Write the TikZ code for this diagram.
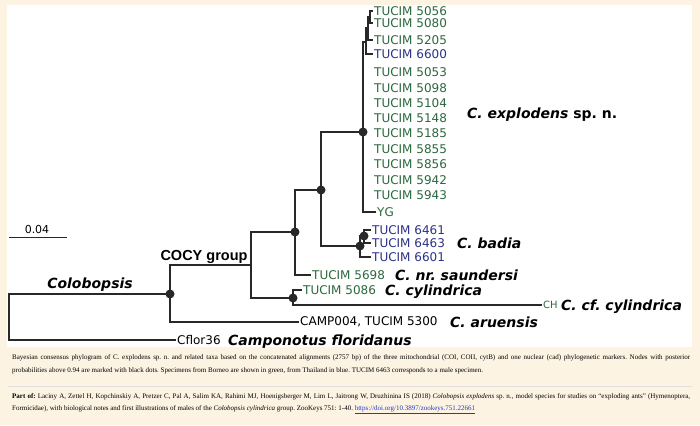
\documentclass[tikz,border=0pt]{standalone}
\usepackage{fontspec}
\setmainfont{Liberation Serif}
\newfontfamily\vfont{DejaVu Sans}
\newfontfamily\afont{Liberation Sans}
\definecolor{cream}{HTML}{FDF3E3}
\definecolor{bgreen}{RGB}{44,104,62}
\definecolor{bblue}{RGB}{43,50,135}
\definecolor{treegray}{RGB}{40,40,40}
\definecolor{linkblue}{RGB}{30,60,200}
\frenchspacing
\begin{document}
\begin{tikzpicture}[x=1pt,y=-1pt,
  br/.style={line width=1.3pt, draw=treegray},
  dot/.style={circle, fill=treegray, inner sep=0pt, minimum size=9pt},
  tip/.style={anchor=west, inner sep=1pt, font=\vfont\fontsize{12}{14}\selectfont},
  gtip/.style={tip, text=bgreen},
  btip/.style={tip, text=bblue},
  sp/.style={anchor=base west, inner sep=0pt, font=\vfont\bfseries\itshape\fontsize{14}{16}\selectfont},
  captxt/.style={anchor=north west, text width=678pt, align=justify, inner sep=0pt}
]
\useasboundingbox (0,0) rectangle (700,425);
\fill[cream] (0,0) rectangle (700,425);
\fill[white] (7,5) rectangle (692,347);

% internal nodes
\coordinate (root) at (9,317);
\coordinate (colob) at (170,294);
\coordinate (cocy) at (251,265);
\coordinate (n1) at (295,232);
\coordinate (cyl) at (293,298);
\coordinate (n2) at (321,190);
\coordinate (expl) at (363,132);
\coordinate (bad1) at (360,246);
\coordinate (bad2) at (364,236);
\coordinate (a1) at (366,42);
\coordinate (a2) at (368,28);
\coordinate (a3) at (370,17);

% tips
\node[gtip] (t5056) at (373,11) {TUCIM 5056};
\node[gtip] (t5080) at (373,23) {TUCIM 5080};
\node[gtip] (t5205) at (373,40) {TUCIM 5205};
\node[btip] (t6600) at (373,54) {TUCIM 6600};
\node[gtip] (t5053) at (373,72) {TUCIM 5053};
\node[gtip] (t5098) at (373,88) {TUCIM 5098};
\node[gtip] (t5104) at (373,103) {TUCIM 5104};
\node[gtip] (t5148) at (373,118) {TUCIM 5148};
\node[gtip] (t5185) at (373,133) {TUCIM 5185};
\node[gtip] (t5855) at (373,149) {TUCIM 5855};
\node[gtip] (t5856) at (373,164) {TUCIM 5856};
\node[gtip] (t5942) at (373,180) {TUCIM 5942};
\node[gtip] (t5943) at (373,195) {TUCIM 5943};
\node[gtip] (tyg) at (376,212) {YG};
\node[btip] (t6461) at (371,230) {TUCIM 6461};
\node[btip] (t6463) at (371,243) {TUCIM 6463};
\node[btip] (t6601) at (371,257) {TUCIM 6601};
\node[gtip] (t5698) at (311,275) {TUCIM 5698};
\node[gtip] (t5086) at (302,290) {TUCIM 5086};
\node[gtip, font=\vfont\fontsize{10}{12}\selectfont] (tch) at (542,305) {CH};
\node[tip] (tcamp) at (299,322) {CAMP004, TUCIM 5300};
\node[tip] (tcflor) at (176,340) {Cflor36};

% species / group labels
\node[sp] (sexpl) at (467,118) {C. explodens \textup{sp. n.}};
\node[sp] (sbad) at (457,248) {C. badia};
\node[sp] (ssaun) at (395,280) {C. nr. saundersi};
\node[sp] (scyl) at (385,295) {C. cylindrica};
\node[sp] (scfc) at (561,310) {C. cf. cylindrica};
\node[sp] (saru) at (450,327) {C. aruensis};
\node[sp] (sflor) at (228,345) {Camponotus floridanus};
\node[sp, anchor=base] (scolob) at (90,288) {Colobopsis};
\node[anchor=base, inner sep=0pt, font=\afont\bfseries\fontsize{14.5}{16}\selectfont] (scocy) at (204,260) {COCY group};

% scale bar
\coordinate (sbl) at (9,237);
\coordinate (sbr) at (67,237);
\draw[line width=1pt, draw=treegray] (sbl) -- (sbr);
\node[font=\vfont\fontsize{11}{13}\selectfont, inner sep=0pt] (sbar) at (37,229) {0.04};

% branches
\draw[br] (root) |- (colob);
\draw[br] (root) |- (tcflor.west);
\draw[br] (colob) |- (cocy);
\draw[br] (colob) |- (tcamp.west);
\draw[br] (cocy) |- (n1);
\draw[br] (cocy) |- (cyl);
\draw[br] (n1) |- (n2);
\draw[br] (n1) |- (t5698.west);
\draw[br] (cyl) |- (t5086.west);
\draw[br] (cyl) |- (tch.west);
\draw[br] (n2) |- (expl);
\draw[br] (n2) |- (bad1);
\draw[br] (bad1) |- (bad2);
\draw[br] (bad1) |- (t6601.west);
\draw[br] (bad2) |- (t6461.west);
\draw[br] (bad2) |- (t6463.west);
\draw[br] (expl) |- (a1);
\draw[br] (expl) |- (tyg.west);
\draw[br] (a1) |- (a2);
\draw[br] (a1) |- (t6600.west);
\draw[br] (a2) |- (a3);
\draw[br] (a2) |- (t5205.west);
\draw[br] (a3) |- (t5056.west);
\draw[br] (a3) |- (t5080.west);

% support dots
\node[dot] (dcolob) at (colob) {};
\node[dot] (dn1) at (n1) {};
\node[dot] (dcyl) at (cyl) {};
\node[dot] (dn2) at (n2) {};
\node[dot] (dexpl) at (expl) {};
\node[dot] (dbad1) at (bad1) {};
\node[dot] (dbad2) at (bad2) {};

% caption
\node[captxt, font=\fontsize{7}{13}\selectfont] (cap) at (12,354) {Bayesian consensus phylogram of C. explodens sp. n. and related taxa based on the concatenated alignments (2757 bp) of the three mitochondrial (COI, COII, cytB) and one nuclear (cad) phylogenetic markers. Nodes with posterior\linebreak probabilities above 0.94 are marked with black dots. Specimens from Borneo are shown in green, from Thailand in blue. TUCIM 6463 corresponds to a male specimen.};
\draw[line width=0.4pt, draw=black!12] (8,386) -- (692,386);
\node[captxt, font=\fontsize{7}{12}\selectfont] (partof) at (12,393) {\textbf{Part of:} Laciny A, Zettel H, Kopchinskiy A, Pretzer C, Pal A, Salim KA, Rahimi MJ, Hoenigsberger M, Lim L, Jaitrong W, Druzhinina IS (2018) \textit{Colobopsis explodens} sp. n., model species for studies on ``exploding ants'' (Hymenoptera,\linebreak Formicidae), with biological notes and first illustrations of males of the \textit{Colobopsis cylindrica} group. ZooKeys 751: 1-40. \textcolor{linkblue}{\underline{https://doi.org/10.3897/zookeys.751.22661}}};
\end{tikzpicture}
\end{document}
